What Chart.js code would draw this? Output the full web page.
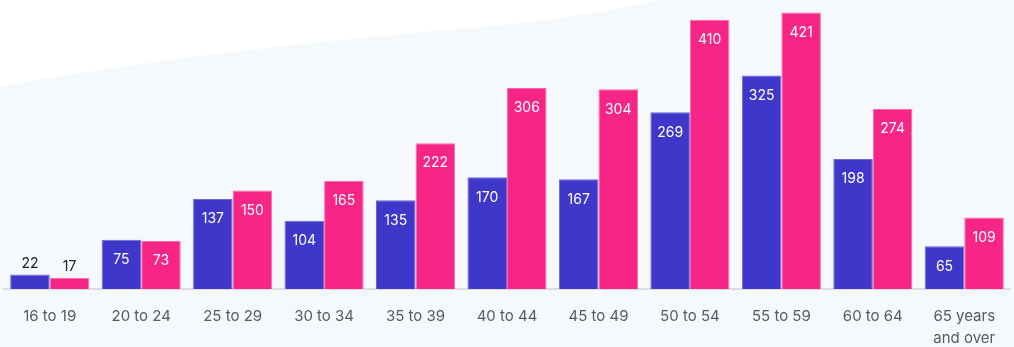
<!DOCTYPE html>
<html>
<head>
<meta charset="utf-8">
<script src="https://cdn.jsdelivr.net/npm/chart.js@4.4.1/dist/chart.umd.min.js"></script>
<style>
html,body{margin:0;padding:0;background:#fff;}
#wrap{width:1014px;height:347px;}
</style>
</head>
<body>
<div id="wrap"><canvas id="c" width="1014" height="347"></canvas></div>
<script>
const categories = [["16 to 19"],["20 to 24"],["25 to 29"],["30 to 34"],["35 to 39"],["40 to 44"],["45 to 49"],["50 to 54"],["55 to 59"],["60 to 64"],["65 years","and over"]];
const seriesBlue = [22, 75, 137, 104, 135, 170, 167, 269, 325, 198, 65];
const seriesPink = [17, 73, 150, 165, 222, 306, 304, 410, 421, 274, 109];

const FONT = "Inter, 'Open Sans', sans-serif";

const bgPlugin = {
  id: 'bg',
  beforeDraw(chart) {
    const ctx = chart.ctx;
    ctx.save();
    ctx.fillStyle = '#ffffff';
    ctx.fillRect(0, 0, chart.width, chart.height);
    ctx.fillStyle = '#f5f9fc';
    ctx.beginPath();
    ctx.moveTo(0, 87);
    ctx.bezierCurveTo(150, 58, 350, 38, 480, 27);
    ctx.quadraticCurveTo(580, 18, 660, 0);
    ctx.lineTo(chart.width, 0);
    ctx.lineTo(chart.width, chart.height);
    ctx.lineTo(0, chart.height);
    ctx.closePath();
    ctx.fill();
    ctx.restore();
  }
};

const labelPlugin = {
  id: 'barLabels',
  afterDatasetsDraw(chart) {
    const ctx = chart.ctx;
    ctx.save();
    ctx.font = "14px " + FONT;
    ctx.textAlign = 'center';
    ctx.textBaseline = 'middle';
    chart.data.datasets.forEach((ds, i) => {
      const meta = chart.getDatasetMeta(i);
      meta.data.forEach((bar, j) => {
        const v = ds.data[j];
        if (v < 50) {
          ctx.fillStyle = '#222222';
          ctx.fillText(String(v), bar.x, bar.y - 11);
        } else {
          ctx.fillStyle = '#ffffff';
          ctx.fillText(String(v), bar.x, bar.y + 20);
        }
      });
    });
    ctx.restore();
  }
};

new Chart(document.getElementById('c'), {
  type: 'bar',
  data: {
    labels: categories,
    datasets: [
      { data: seriesBlue, backgroundColor: '#3f37c9', borderColor: '#6c66d9', borderWidth: 1, barPercentage: 1, categoryPercentage: 0.865 },
      { data: seriesPink, backgroundColor: '#f72585', borderColor: '#fa6aab', borderWidth: 1, barPercentage: 1, categoryPercentage: 0.865 }
    ]
  },
  options: {
    responsive: false,
    animation: false,
    layout: { padding: { left: 4, right: 4, top: 0, bottom: 0 } },
    plugins: { legend: { display: false }, tooltip: { enabled: false } },
    scales: {
      x: {
        afterFit(scale) { scale.height = 58; },
        grid: { display: false, drawTicks: false },
        border: { display: true, color: '#dddddd', width: 2 },
        ticks: { color: '#5a5a5a', font: { family: FONT, size: 15, lineHeight: 1.47 }, padding: 16, maxRotation: 0, autoSkip: false }
      },
      y: {
        display: false,
        min: 0,
        max: 440
      }
    }
  },
  plugins: [bgPlugin, labelPlugin]
});
</script>
</body>
</html>
